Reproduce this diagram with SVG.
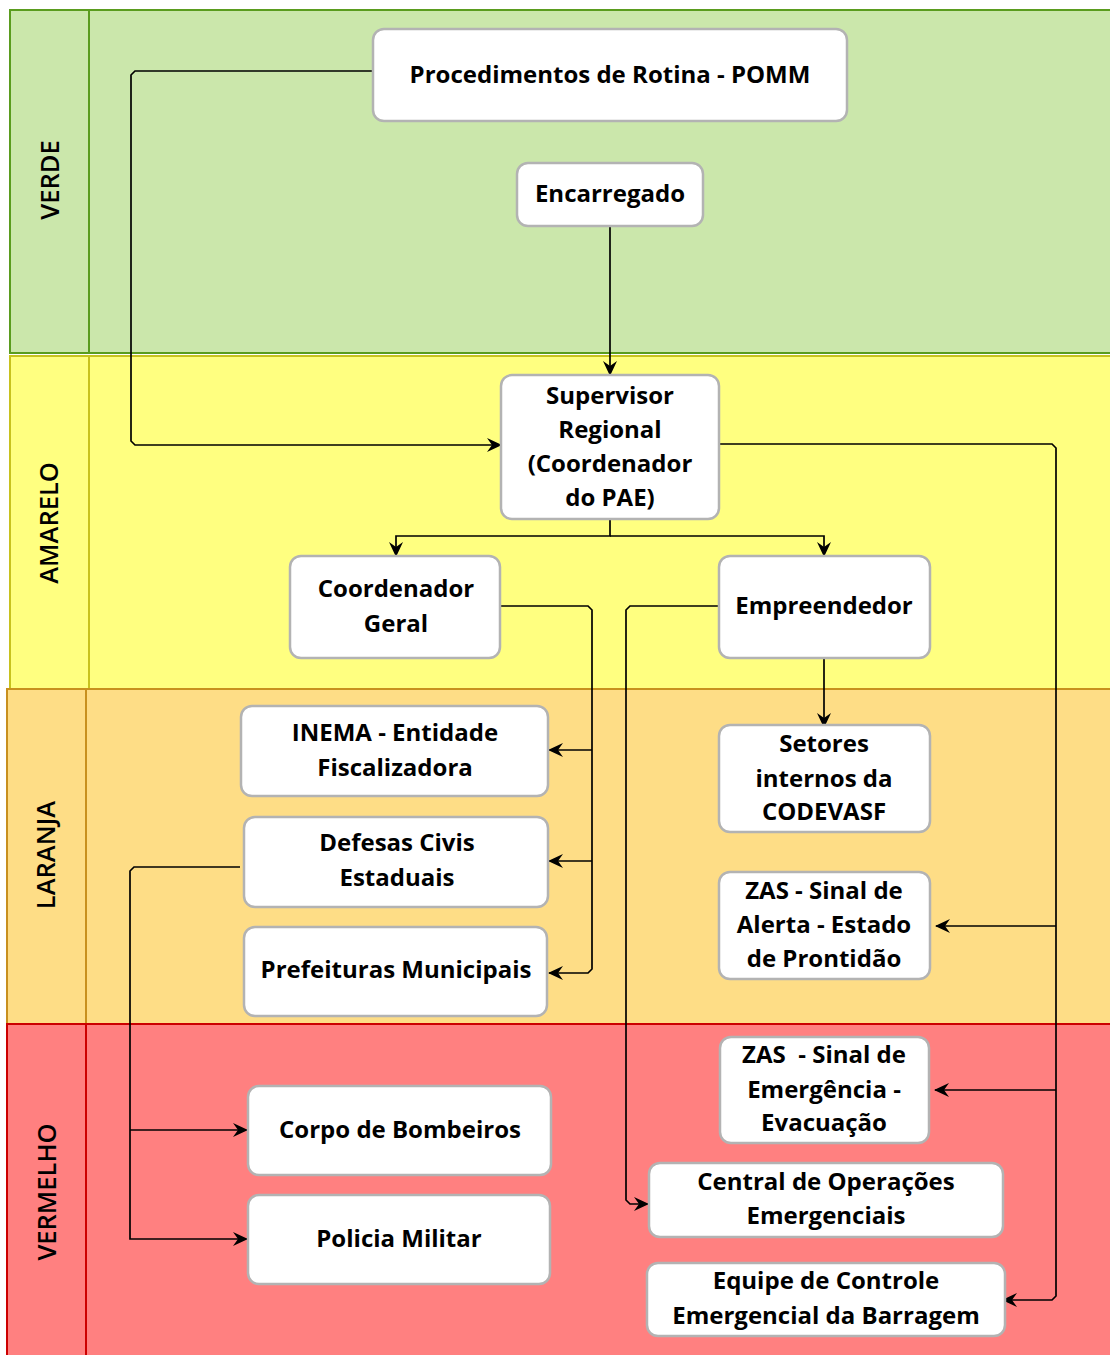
<svg xmlns="http://www.w3.org/2000/svg" width="1110" height="1355" viewBox="0 0 1110 1355">
<defs>
<style>
.node rect{fill:#fff;stroke:#b3b3b3;stroke-width:2.5}
.node text{font-family:"Open Sans","Noto Sans","DejaVu Sans",sans-serif;font-weight:700;font-size:24px;fill:#000;text-anchor:middle}
.lane text{font-family:"Open Sans","Noto Sans","DejaVu Sans",sans-serif;font-weight:600;font-size:25.5px;fill:#000;text-anchor:middle}
.conn path{fill:none;stroke:#000;stroke-width:1.7}
</style>
<marker id="arr" viewBox="0 0 15 15" refX="14" refY="7.5" markerWidth="15" markerHeight="15" markerUnits="userSpaceOnUse" orient="auto">
<path d="M0,0.5 L15,7.5 L0,14.5 L5,7.5 z" fill="#000"/>
</marker>
</defs>
<rect width="1110" height="1355" fill="#fff"/>
<g id="lanes" class="lane">
<g id="lane-verde">
<rect x="10" y="10" width="1105" height="343" fill="#cbe7ab" stroke="#5a9c1e" stroke-width="2"/>
<line x1="89" y1="10" x2="89" y2="353" stroke="#5a9c1e" stroke-width="2"/>
<text transform="translate(59,180) rotate(-90)">VERDE</text>
</g>
<g id="lane-amarelo">
<rect x="10" y="356" width="1105" height="333" fill="#ffff80" stroke="#c8c21e" stroke-width="2"/>
<line x1="89" y1="356" x2="89" y2="689" stroke="#c8c21e" stroke-width="2"/>
<text transform="translate(58,523) rotate(-90)">AMARELO</text>
</g>
<g id="lane-laranja">
<rect x="7" y="689" width="1108" height="335" fill="#fedd86" stroke="#c8901e" stroke-width="2"/>
<line x1="86" y1="689" x2="86" y2="1024" stroke="#c8901e" stroke-width="2"/>
<text transform="translate(55,855) rotate(-90)">LARANJA</text>
</g>
<g id="lane-vermelho">
<rect x="7" y="1024" width="1108" height="340" fill="#ff8080" stroke="#cc0000" stroke-width="2"/>
<line x1="86" y1="1024" x2="86" y2="1355" stroke="#cc0000" stroke-width="2"/>
<text transform="translate(56,1192) rotate(-90)">VERMELHO</text>
</g>
</g>
<g id="connectors" class="conn">
<path d="M373,71 L135,71 L131,75 L131,441 L135,445 L501,445" marker-end="url(#arr)"/>
<path d="M610,226 L610,375" marker-end="url(#arr)"/>
<path d="M610,519 L610,536 L396,536 L396,556" marker-end="url(#arr)"/>
<path d="M610,536 L824,536 L824,556" marker-end="url(#arr)"/>
<path d="M715,444 L1052,444 L1056,448 L1056,1296 L1052,1300 L1003,1300" marker-end="url(#arr)"/>
<path d="M1056,926 L936,926" marker-end="url(#arr)"/>
<path d="M1056,1090 L935,1090" marker-end="url(#arr)"/>
<path d="M500,606 L588,606 L592,610 L592,969 L588,973 L549,973" marker-end="url(#arr)"/>
<path d="M592,750 L549,750" marker-end="url(#arr)"/>
<path d="M592,861 L549,861" marker-end="url(#arr)"/>
<path d="M719,606 L630,606 L626,610 L626,1200 L630,1204 L648,1204" marker-end="url(#arr)"/>
<path d="M824,658 L824,727" marker-end="url(#arr)"/>
<path d="M240,867 L134,867 L130,871 L130,1239 L247,1239" marker-end="url(#arr)"/>
<path d="M130,1130 L247,1130" marker-end="url(#arr)"/>
</g>
<g id="n-procedimentos" class="node"><rect x="373" y="29" width="474" height="92" rx="11"/><text x="610" y="83">Procedimentos de Rotina - POMM</text></g>
<g id="n-encarregado" class="node"><rect x="517" y="163" width="186" height="63" rx="11"/><text x="610" y="202">Encarregado</text></g>
<g id="n-supervisor" class="node"><rect x="501" y="375" width="218" height="144" rx="11"/><text x="610" y="404">Supervisor</text><text x="610" y="438">Regional</text><text x="610" y="472">(Coordenador</text><text x="610" y="506">do PAE)</text></g>
<g id="n-coordenador" class="node"><rect x="290" y="556" width="210" height="102" rx="11"/><text x="396" y="597">Coordenador</text><text x="396" y="632">Geral</text></g>
<g id="n-empreendedor" class="node"><rect x="719" y="556" width="211" height="102" rx="11"/><text x="824" y="614">Empreendedor</text></g>
<g id="n-inema" class="node"><rect x="241" y="706" width="307" height="90" rx="11"/><text x="395" y="741">INEMA - Entidade</text><text x="395" y="776">Fiscalizadora</text></g>
<g id="n-defesas" class="node"><rect x="244" y="817" width="304" height="90" rx="11"/><text x="397" y="851">Defesas Civis</text><text x="397" y="886">Estaduais</text></g>
<g id="n-prefeituras" class="node"><rect x="244" y="927" width="303" height="89" rx="11"/><text x="396" y="978">Prefeituras Municipais</text></g>
<g id="n-setores" class="node"><rect x="719" y="725" width="211" height="107" rx="11"/><text x="824" y="752">Setores</text><text x="824" y="787">internos da</text><text x="824" y="820">CODEVASF</text></g>
<g id="n-zas-alerta" class="node"><rect x="719" y="872" width="211" height="107" rx="11"/><text x="824" y="899">ZAS - Sinal de</text><text x="824" y="933">Alerta - Estado</text><text x="824" y="967">de Prontidão</text></g>
<g id="n-zas-emergencia" class="node"><rect x="720" y="1037" width="209" height="106" rx="11"/><text x="824" y="1063" style="white-space:pre">ZAS  - Sinal de</text><text x="824" y="1098">Emergência -</text><text x="824" y="1131">Evacuação</text></g>
<g id="n-central" class="node"><rect x="649" y="1163" width="354" height="74" rx="11"/><text x="826" y="1190">Central de Operações</text><text x="826" y="1224">Emergenciais</text></g>
<g id="n-equipe" class="node"><rect x="647" y="1263" width="358" height="73" rx="11"/><text x="826" y="1289">Equipe de Controle</text><text x="826" y="1324">Emergencial da Barragem</text></g>
<g id="n-bombeiros" class="node"><rect x="248" y="1086" width="303" height="89" rx="11"/><text x="400" y="1138">Corpo de Bombeiros</text></g>
<g id="n-policia" class="node"><rect x="248" y="1195" width="302" height="89" rx="11"/><text x="399" y="1247">Policia Militar</text></g>
</svg>
